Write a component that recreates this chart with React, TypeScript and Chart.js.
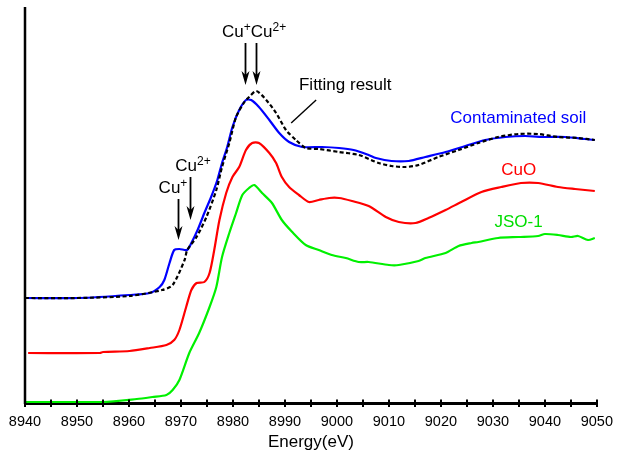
import React, { useEffect, useRef } from 'react';
import { Chart, registerables } from 'chart.js';

Chart.register(...registerables);

const FONT = "'Liberation Sans', Arial, Helvetica, sans-serif";

// Axis
const xMin = 8940;
const xMax = 9050;
const xStep = 5;
const yMin = 0;
const yMax = 396;

// Contaminated soil (blue)
const soilE = [8940, 8950.5, 8960.1, 8964, 8965.9, 8966.8, 8967.8, 8968.7, 8969.7, 8971.2, 8972, 8973.2, 8974.5, 8975.8, 8977, 8977.9, 8978.9, 8979.9, 8981.2, 8982.5, 8983.5, 8985, 8987, 8988.9, 8990.8, 8993.3, 8997.1, 9000.4, 9003.2, 9006.1, 9007.5, 9010.5, 9013.8, 9017, 9020.9, 9024.7, 9028.5, 9032.4, 9036.2, 9040, 9043.9, 9047.7, 9049.6];
const soilI = [105, 105, 108, 110, 116, 123, 140, 153, 154, 153, 160, 173, 190, 206, 223, 240, 256, 276, 293, 303, 303, 296, 283, 270, 261, 256, 256, 255, 253, 248, 245, 242, 242, 246, 251, 257, 263, 266, 267, 266, 266, 264, 263];

// Fitting result (black dashed)
const fitE = [8940, 8950, 8960.1, 8966.4, 8968.4, 8970.7, 8971.2, 8973, 8974.9, 8976.8, 8977.9, 8979.3, 8980.6, 8982.2, 8983.1, 8984.5, 8986.4, 8988.3, 8990.2, 8992.1, 8994, 8996.5, 9000.4, 9004.2, 9008, 9010.5, 9013.2, 9015.7, 9019.5, 9023.4, 9027.2, 9031, 9034.9, 9038.7, 9042.5, 9046.4, 9049.6];
const fitI = [105, 105, 107, 113, 118, 143, 153, 166, 186, 213, 236, 260, 286, 301, 306, 312, 303, 290, 273, 263, 255, 254, 251, 248, 240, 237, 236, 238, 246, 253, 260, 266, 269, 269, 266, 265, 263];

// CuO (red)
const cuoE = [8940.6, 8954.4, 8955, 8960.1, 8964, 8967.2, 8968.7, 8969.7, 8971, 8972, 8973, 8974.5, 8975.5, 8976.4, 8977.4, 8978.7, 8979.9, 8981.2, 8982.5, 8983.7, 8985, 8987, 8988.3, 8989.4, 8990.8, 8992.7, 8994.6, 8996.5, 8998.5, 9000.4, 9002.9, 9006.1, 9009.4, 9011.9, 9015.1, 9017.6, 9020.9, 9023.9, 9027.8, 9031.6, 9035.4, 9038.7, 9042.5, 9045.8, 9049.6];
const cuoI = [50, 50, 51, 52, 55, 58, 63, 73, 96, 113, 120, 121, 130, 153, 183, 210, 226, 236, 253, 260, 260, 250, 240, 226, 216, 208, 201, 203, 205, 205, 202, 197, 186, 181, 180, 185, 193, 201, 211, 216, 220, 220, 216, 214, 212];

// JSO-1 (green)
const jsoE = [8940, 8955, 8961.5, 8964.5, 8967.2, 8968.4, 8969.7, 8971.6, 8973.5, 8975.5, 8976.8, 8977.9, 8979.3, 8980.6, 8981.8, 8983.1, 8984.1, 8985.6, 8987.5, 8989.4, 8991.4, 8994, 8996.5, 8999, 9001.7, 9004.2, 9006.1, 9010, 9011.9, 9015.7, 9017, 9020.9, 9023.4, 9025.9, 9027.2, 9031, 9034.9, 9038.7, 9040, 9042.5, 9045, 9046.4, 9048.3, 9049.6];
const jsoI = [1, 1, 4, 6, 8, 13, 23, 50, 70, 96, 116, 146, 170, 190, 208, 215, 218, 210, 200, 183, 171, 158, 153, 148, 145, 141, 141, 138, 138, 142, 145, 150, 157, 160, 161, 165, 166, 167, 169, 168, 166, 167, 163, 165];

// Series names / colours
const seriesNames = ['Fitting result', 'Contaminated soil', 'CuO', 'JSO-1'];
const seriesColors = ['#000000', '#0000ff', '#ff0000', '#00f000'];

// Annotation texts (position in data units: energy, intensity; baseline-left)
const textLabels = [
  { text: 'Contaminated soil', x: 9021.8, y: 280, color: '#0000ff' },
  { text: 'CuO', x: 9031.6, y: 228, color: '#ff0000' },
  { text: 'JSO-1', x: 9030.3, y: 176, color: '#00dd00' },
  { text: 'Fitting result', x: 8992.7, y: 313, color: '#000000' },
];
const supLabels = [
  { parts: [['Cu', false], ['+', true], ['Cu', false], ['2+', true]], x: 8977.9, y: 366 },
  { parts: [['Cu', false], ['2+', true]], x: 8968.9, y: 232 },
  { parts: [['Cu', false], ['+', true]], x: 8965.7, y: 210 },
];
const arrows = [
  { x: 8982.35, y1: 360, y2: 318 },
  { x: 8984.45, y1: 360, y2: 318 },
  { x: 8969.5, y1: 204, y2: 163 },
  { x: 8971.8, y1: 226, y2: 183 },
];
const leader = { x1: 8996, y1: 303, x2: 8991.2, y2: 280 };

const toPoints = (xs: number[], ys: number[]) => xs.map((x, i) => ({ x, y: ys[i] }));

const annotationPlugin = {
  id: 'annotations',
  afterDatasetsDraw(chart: any) {
    const { ctx, chartArea } = chart;
    const xs = chart.scales.x;
    const ys = chart.scales.y;
    ctx.save();
    // left axis line
    ctx.strokeStyle = '#000';
    ctx.lineWidth = 2.5;
    ctx.beginPath();
    ctx.moveTo(chartArea.left, chartArea.top);
    ctx.lineTo(chartArea.left, chartArea.bottom + 1);
    ctx.stroke();
    // inner tick marks
    ctx.lineWidth = 2;
    xs.ticks.forEach((t: any) => {
      const px = Math.round(xs.getPixelForValue(t.value));
      ctx.beginPath();
      ctx.moveTo(px, chartArea.bottom - 3.5);
      ctx.lineTo(px, chartArea.bottom);
      ctx.stroke();
    });
    // plain labels
    ctx.textBaseline = 'alphabetic';
    ctx.textAlign = 'left';
    ctx.font = `17px ${FONT}`;
    textLabels.forEach((l) => {
      ctx.fillStyle = l.color;
      ctx.fillText(l.text, xs.getPixelForValue(l.x), ys.getPixelForValue(l.y));
    });
    // superscript labels
    ctx.fillStyle = '#000';
    supLabels.forEach((l) => {
      let px = xs.getPixelForValue(l.x);
      const py = ys.getPixelForValue(l.y);
      l.parts.forEach(([txt, sup]: any) => {
        ctx.font = sup ? `12px ${FONT}` : `17px ${FONT}`;
        ctx.fillText(txt, px, sup ? py - 6.5 : py);
        px += ctx.measureText(txt).width;
      });
    });
    // arrows
    ctx.strokeStyle = '#000';
    ctx.fillStyle = '#000';
    arrows.forEach((a) => {
      const px = Math.round(xs.getPixelForValue(a.x)) + 0.5;
      const top = ys.getPixelForValue(a.y1);
      const tip = ys.getPixelForValue(a.y2);
      ctx.lineWidth = 1.8;
      ctx.beginPath();
      ctx.moveTo(px, top);
      ctx.lineTo(px, tip - 8);
      ctx.stroke();
      ctx.beginPath();
      ctx.moveTo(px, tip);
      ctx.lineTo(px - 4, tip - 14);
      ctx.lineTo(px, tip - 10);
      ctx.lineTo(px + 4, tip - 14);
      ctx.closePath();
      ctx.fill();
    });
    // leader line
    ctx.lineWidth = 1.4;
    ctx.beginPath();
    ctx.moveTo(xs.getPixelForValue(leader.x1), ys.getPixelForValue(leader.y1));
    ctx.lineTo(xs.getPixelForValue(leader.x2), ys.getPixelForValue(leader.y2));
    ctx.stroke();
    ctx.restore();
  },
};

export default function App() {
  const canvasRef = useRef<HTMLCanvasElement | null>(null);

  useEffect(() => {
    if (!canvasRef.current) return;
    const series = [toPoints(fitE, fitI), toPoints(soilE, soilI), toPoints(cuoE, cuoI), toPoints(jsoE, jsoI)];
    const chart = new Chart(canvasRef.current, {
      type: 'line',
      data: {
        datasets: series.map((d, i) => ({
          label: seriesNames[i],
          data: d,
          borderColor: seriesColors[i],
          backgroundColor: seriesColors[i],
          borderWidth: 2.2,
          borderDash: i === 0 ? [4, 2.5] : [],
          pointRadius: 0,
          tension: 0.25,
          fill: false,
        })),
      },
      options: {
        responsive: false,
        animation: false,
        devicePixelRatio: 1,
        layout: { padding: { left: 25, right: 20, top: 7, bottom: 0 } },
        plugins: { legend: { display: false }, tooltip: { enabled: false } },
        scales: {
          x: {
            type: 'linear',
            min: xMin,
            max: xMax,
            afterFit: (scale: any) => {
              scale.height = 51;
            },
            ticks: {
              stepSize: xStep,
              autoSkip: false,
              maxRotation: 0,
              padding: 6,
              color: '#000',
              font: { family: FONT, size: 14.5 },
              callback: (v: any) => (Number(v) % 10 === 0 ? String(v) : ''),
            },
            grid: { display: true, drawOnChartArea: false, drawTicks: true, tickLength: 4, color: '#000', lineWidth: 2 },
            border: { display: true, color: '#000', width: 3 },
            title: {
              display: true,
              text: 'Energy(eV)',
              color: '#000',
              font: { family: FONT, size: 17 },
              padding: { top: 0, bottom: 1 },
            },
          },
          y: {
            type: 'linear',
            min: yMin,
            max: yMax,
            display: false,
          },
        },
      },
      plugins: [annotationPlugin],
    });
    return () => chart.destroy();
  }, []);

  return (
    <div style={{ position: 'absolute', left: 0, top: 0, width: 619, height: 454, background: '#fff' }}>
      <canvas ref={canvasRef} width={619} height={454} />
    </div>
  );
}
